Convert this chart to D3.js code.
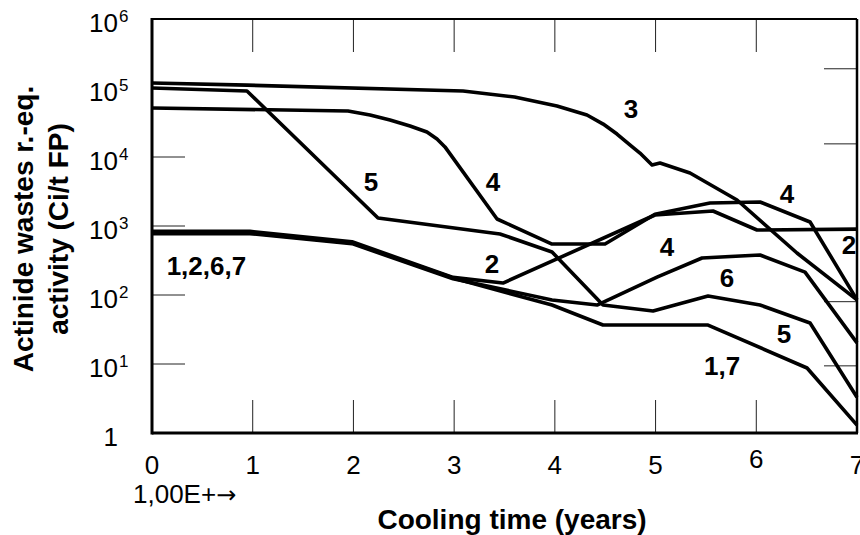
<!DOCTYPE html>
<html>
<head>
<meta charset="utf-8">
<script src="https://cdn.jsdelivr.net/npm/d3@7"></script>
<style>
  body { margin: 0; background: #fff; }
  svg { display: block; }
  text { font-family: "Liberation Sans", Arial, Helvetica, sans-serif; fill: #000; }
</style>
</head>
<body>
<svg id="chart" width="860" height="535"></svg>
<script>
// Cooling time axis: log10 of years (0 .. 7)
const xTickValues = [0, 1, 2, 3, 4, 5, 6, 7];
const xTickLabels = ["0", "1", "2", "3", "4", "5", "6", "7"];
// Activity axis: decades 10^0 .. 10^6
const yDecades = [0, 1, 2, 3, 4, 5, 6];
const leftTickValues = [1e1, 1e2, 1e3, 1e4];
const rightTickValues = [1.9e5, 1.55e4, 80, 9.4];
const innerTickValues = [1, 2, 3, 4, 5, 6];

// Series: [log10 cooling time, actinide activity (Ci/t FP)]
const series1and7 = [[0, 800], [0.973, 800], [1.986, 570], [2.989, 176], [3.972, 71.6], [4.478, 36.7], [5.521, 36.7], [6.504, 8.75], [7, 1.3]];
const series2 = [[0, 835], [0.973, 835], [1.986, 590], [2.989, 180], [3.485, 149], [4.994, 1443], [5.570, 1650], [6.007, 875], [7, 900]];
const series3 = [[0, 118000], [0.943, 110000], [3.088, 90500], [3.6, 74000], [4.021, 54800], [4.319, 40600], [4.48, 30000], [4.617, 21500], [4.745, 15000], [4.845, 11400], [4.965, 7650], [5.044, 8190], [5.342, 5870], [5.809, 2380], [6.404, 406], [7, 85]];
const series4 = [[0, 51300], [1.946, 46400], [2.165, 40600], [2.363, 34400], [2.562, 28100], [2.730, 23000], [2.830, 18200], [2.909, 14000], [3.426, 1263], [3.972, 548], [4.498, 548], [4.994, 1480], [5.540, 2150], [6.037, 2230], [6.534, 1143], [7, 85]];
const series5 = [[0, 100000], [0.943, 90500], [2.244, 1306], [3.455, 766], [3.972, 420], [4.478, 71.6], [4.975, 58.6], [5.521, 96.8], [6.037, 71.6], [6.534, 39.3], [7, 3.3]];
const series6 = [[0, 775], [0.973, 775], [1.986, 555], [2.989, 172], [3.972, 84.7], [4.419, 71.6], [5.014, 182], [5.461, 344], [6.037, 380], [6.484, 215], [7, 20.2]];

const allSeries = [series1and7, series2, series3, series4, series5, series6];

// Curve identifiers written on the plot, anchored in data coordinates
const curveNames = ["1,2,6,7", "5", "4", "3", "2", "4", "4", "2", "6", "5", "1,7"];
const curveNameX = [0.54, 2.174, 3.386, 4.756, 3.376, 6.305, 5.113, 6.921, 5.709, 6.275, 5.66];
const curveNameY = [195, 3215, 3215, 36700, 208, 2155, 367, 393, 131, 20.2, 6.93];

const svg = d3.select("#chart");

const x = d3.scaleLinear().domain([0, 7]).range([152, 857]);
const y = d3.scaleLog().domain([1, 1e6]).range([433, 19]);

// Inward tick marks on all four sides
const tickGroup = svg.append("g").attr("stroke", "#222").attr("stroke-width", 1);
const tickLen = 33;

tickGroup.selectAll("line.b").data(innerTickValues).join("line")
  .attr("class", "b")
  .attr("x1", d => x(d)).attr("x2", d => x(d))
  .attr("y1", y(1)).attr("y2", y(1) - tickLen);
tickGroup.selectAll("line.t").data(innerTickValues).join("line")
  .attr("class", "t")
  .attr("x1", d => x(d)).attr("x2", d => x(d))
  .attr("y1", y(1e6)).attr("y2", y(1e6) + tickLen);
tickGroup.selectAll("line.l").data(leftTickValues).join("line")
  .attr("class", "l")
  .attr("x1", x(0)).attr("x2", x(0) + tickLen)
  .attr("y1", d => y(d)).attr("y2", d => y(d));
tickGroup.selectAll("line.r").data(rightTickValues).join("line")
  .attr("class", "r")
  .attr("x1", x(7) - tickLen).attr("x2", x(7))
  .attr("y1", d => y(d)).attr("y2", d => y(d));

// Frame
const frame = svg.append("g").attr("stroke", "#000").attr("fill", "none");
frame.append("line").attr("x1", x(0)).attr("x2", x(7)).attr("y1", y(1e6)).attr("y2", y(1e6)).attr("stroke-width", 2);
frame.append("line").attr("x1", x(7)).attr("x2", x(7)).attr("y1", y(1e6)).attr("y2", y(1)).attr("stroke-width", 2.5);
frame.append("line").attr("x1", x(0)).attr("x2", x(0)).attr("y1", y(1e6) - 1).attr("y2", y(1) + 1.5).attr("stroke-width", 3);
frame.append("line").attr("x1", x(0)).attr("x2", x(7) + 1).attr("y1", y(1)).attr("y2", y(1)).attr("stroke-width", 3);

// Curves
const line = d3.line().x(d => x(d[0])).y(d => y(d[1]));
svg.append("g").selectAll("path").data(allSeries).join("path")
  .attr("d", line)
  .attr("fill", "none")
  .attr("stroke", "#000")
  .attr("stroke-width", 3.6)
  .attr("stroke-linejoin", "round")
  .attr("stroke-linecap", "butt");

// Y tick labels: 1, 10^1 ... 10^6
const yLab = svg.append("g");
yDecades.forEach(k => {
  const yy = y(Math.pow(10, k)) + 13;
  yLab.append("text")
    .attr("x", 118).attr("y", yy)
    .attr("text-anchor", "end")
    .attr("font-size", 26)
    .text(k === 0 ? "1" : "10");
  if (k > 0) {
    yLab.append("text")
      .attr("x", 119).attr("y", yy - 10)
      .attr("font-size", 17)
      .text(String(k));
  }
});

// X tick labels
svg.append("g").selectAll("text").data(xTickValues).join("text")
  .attr("x", d => x(d))
  .attr("y", d => d === 6 ? 468 : 474)
  .attr("text-anchor", "middle")
  .attr("font-size", 26)
  .text((d, i) => xTickLabels[i]);

const expo = svg.append("text")
  .attr("x", 133).attr("y", 503)
  .attr("font-size", 26);
expo.append("tspan").text("1,00E+");
expo.append("tspan")
  .attr("font-family", "'DejaVu Sans', sans-serif")
  .attr("font-size", 24)
  .text("\u2192");

// Axis titles
svg.append("text")
  .attr("x", 512).attr("y", 529)
  .attr("text-anchor", "middle")
  .attr("font-size", 28)
  .attr("font-weight", "bold")
  .text("Cooling time (years)");

const yTitle = svg.append("g").attr("transform", "translate(0,229) rotate(-90)");
yTitle.append("text")
  .attr("x", 0).attr("y", 33)
  .attr("text-anchor", "middle")
  .attr("font-size", 28)
  .attr("font-weight", "bold")
  .text("Actinide wastes r.-eq.");
yTitle.append("text")
  .attr("x", 0).attr("y", 68)
  .attr("text-anchor", "middle")
  .attr("font-size", 28)
  .attr("font-weight", "bold")
  .text("activity (Ci/t FP)");

// Curve identifiers
svg.append("g").selectAll("text").data(curveNames).join("text")
  .attr("x", (d, i) => x(curveNameX[i]))
  .attr("y", (d, i) => y(curveNameY[i]))
  .attr("text-anchor", "middle")
  .attr("font-size", 26)
  .attr("font-weight", "bold")
  .text(d => d);
</script>
</body>
</html>
